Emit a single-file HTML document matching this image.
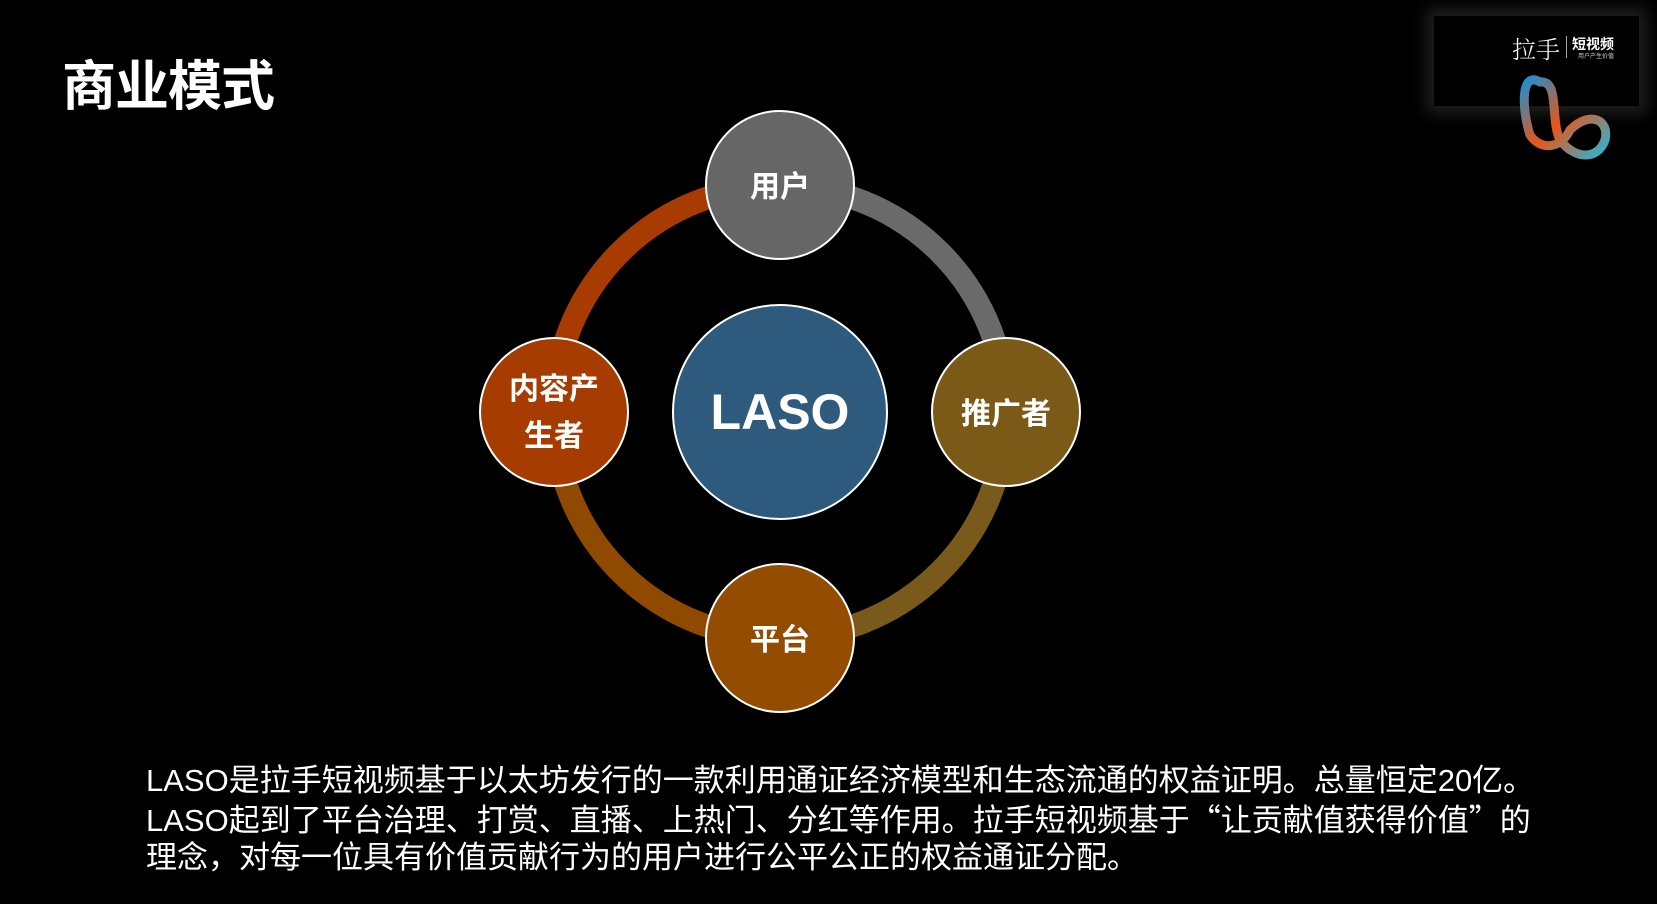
<!DOCTYPE html>
<html><head><meta charset="utf-8"><style>
body{margin:0;width:1657px;height:904px;background:#000;overflow:hidden;position:relative;font-family:"Liberation Sans","Noto Sans CJK SC",sans-serif}
.t{position:absolute;color:#fff}
.q{font-family:"Noto Sans CJK SC",sans-serif}
</style></head><body>
<div class="t" style="left:62px;top:42px;font-size:54px;font-weight:bold;letter-spacing:-1px">商业模式</div>
<div style="position:absolute;left:1434px;top:16px;width:205px;height:90px;background:#000;box-shadow:0 0 14px 8px #1e1e1e"></div>
<div class="t" style="left:1512px;top:30px;font-size:24px;font-family:'Noto Serif CJK SC',serif;font-weight:300">拉手</div>
<div style="position:absolute;left:1566px;top:36px;width:1px;height:22px;background:#aaa"></div>
<div class="t" style="left:1572px;top:34px;font-size:14px;font-weight:bold">短视频</div>
<div class="t" style="left:1578px;top:51px;font-size:6px;color:#ccc">用户产生价值</div>
<svg style="position:absolute;left:0;top:0" width="1657" height="904">
<defs><linearGradient id="lg" x1="0" y1="0" x2="1" y2="1"><stop offset="0" stop-color="#1e8fd0"/><stop offset=".5" stop-color="#e8561a"/><stop offset="1" stop-color="#2ab5d8"/></linearGradient></defs>
<path d="M1540 82 C1520 70 1522 110 1530 135 C1540 150 1560 150 1570 130 C1590 110 1610 120 1605 140 C1598 160 1575 160 1560 140 C1550 120 1560 80 1540 82Z" fill="none" stroke="url(#lg)" stroke-width="9"/>
<g fill="none" stroke-width="23">
<path d="M554 412 A226 226 0 0 1 780 186" stroke="#a83c00"/>
<path d="M780 186 A226 226 0 0 1 1006 412" stroke="#6a6a6a"/>
<path d="M1006 412 A226 226 0 0 1 780 638" stroke="#7a5a1a"/>
<path d="M780 638 A226 226 0 0 1 554 412" stroke="#8f4a00"/>
</g>
<g stroke="#fff" stroke-width="2">
<circle cx="780" cy="185" r="74" fill="#666"/>
<circle cx="554" cy="412" r="74" fill="#a63c00"/>
<circle cx="1006" cy="412" r="74" fill="#7b5a18"/>
<circle cx="780" cy="638" r="74" fill="#934c00"/>
<circle cx="780" cy="412" r="107" fill="#2e5a7e"/>
</g>
<g fill="#fff" font-weight="bold" text-anchor="middle" font-family="Liberation Sans,Noto Sans CJK SC,sans-serif">
<text x="780" y="197" font-size="30">用户</text>
<text x="554" y="399" font-size="30">内容产</text>
<text x="554" y="446" font-size="30">生者</text>
<text x="1006" y="424" font-size="30">推广者</text>
<text x="780" y="650" font-size="30">平台</text>
<text x="780" y="429" font-size="50">LASO</text>
</g>
</svg>
<div class="t" style="left:146px;top:762px;font-size:31px;line-height:37px;width:1490px">LASO是拉手短视频基于以太坊发行的一款利用通证经济模型和生态流通的权益证明。总量恒定20亿。<br>LASO起到了平台治理、打赏、直播、上热门、分红等作用。拉手短视频基于<span class="q">“</span>让贡献值获得价值<span class="q">”</span>的<br>理念，对每一位具有价值贡献行为的用户进行公平公正的权益通证分配。</div>
</body></html>
